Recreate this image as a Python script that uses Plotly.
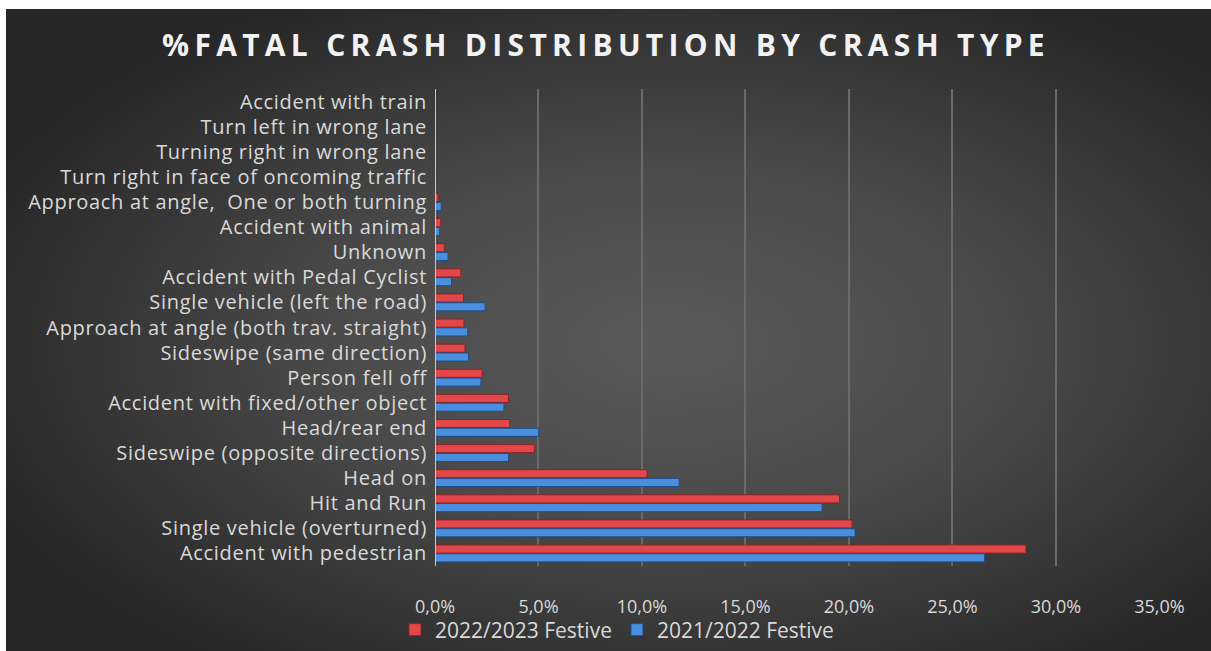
import base64
import plotly.graph_objects as go

# Crash types, listed top to bottom as drawn
crash_types = [
    "Accident with train",
    "Turn left in wrong lane",
    "Turning right in wrong lane",
    "Turn right in face of oncoming traffic",
    "Approach at angle,  One or both turning",
    "Accident with animal",
    "Unknown",
    "Accident with Pedal Cyclist",
    "Single vehicle (left the road)",
    "Approach at angle (both trav. straight)",
    "Sideswipe (same direction)",
    "Person fell off",
    "Accident with fixed/other object",
    "Head/rear end",
    "Sideswipe (opposite directions)",
    "Head on",
    "Hit and Run",
    "Single vehicle (overturned)",
    "Accident with pedestrian",
]

# Percentage of fatal crashes per season
festive_2022_2023 = [0.0, 0.0, 0.0, 0.0, 0.15, 0.28, 0.45, 1.25, 1.38, 1.4, 1.45, 2.28,
                     3.55, 3.6, 4.8, 10.25, 19.55, 20.15, 28.55]
festive_2021_2022 = [0.0, 0.0, 0.0, 0.0, 0.3, 0.22, 0.63, 0.8, 2.42, 1.58, 1.62, 2.22,
                     3.33, 5.0, 3.55, 11.8, 18.7, 20.3, 26.55]

x_ticks = [0, 5, 10, 15, 20, 25, 30, 35]
x_tick_labels = [f"{v:.1f}%".replace(".", ",") for v in x_ticks]

W, H = 1211, 651
M_L, M_R, M_T, M_B = 435, 51, 89, 85
PANEL_X0, PANEL_Y0 = 6, 9

FONT = "Open Sans"
TEXT = "#d9d9d9"

# Dark radial backdrop for the chart panel
svg = """<svg xmlns='http://www.w3.org/2000/svg' width='1205' height='642' viewBox='0 0 1205 642' preserveAspectRatio='none'>
<defs><radialGradient id='g' cx='0.55' cy='0.52' r='0.62' gradientUnits='objectBoundingBox'>
<stop offset='0' stop-color='#5a5a5a'/><stop offset='0.45' stop-color='#4a4a4a'/>
<stop offset='1' stop-color='#262626'/></radialGradient></defs>
<rect width='1205' height='642' fill='url(#g)'/></svg>"""
bg_src = "data:image/svg+xml;base64," + base64.b64encode(svg.encode()).decode()

plot_w = W - M_L - M_R
plot_h = H - M_T - M_B

fig = go.Figure()
fig.add_trace(go.Bar(
    name="2022/2023 Festive", y=crash_types, x=festive_2022_2023, orientation="h",
    marker=dict(color="#e2484a", line=dict(color="#8e2224", width=1)),
))
fig.add_trace(go.Bar(
    name="2021/2022 Festive", y=crash_types, x=festive_2021_2022, orientation="h",
    marker=dict(color="#4a8ede", line=dict(color="#1e4d8e", width=1)),
))

fig.update_layout(
    width=W, height=H,
    margin=dict(l=M_L, r=M_R, t=M_T, b=M_B, pad=0, autoexpand=False),
    paper_bgcolor="white",
    plot_bgcolor="rgba(0,0,0,0)",
    barmode="group",
    bargap=0.3,
    bargroupgap=0.08,
    font=dict(family=FONT, color=TEXT, size=18),
    title=dict(
        text="<b>%FATAL CRASH DISTRIBUTION BY CRASH TYPE</b>",
        x=(606 / W), xanchor="center", y=1 - 45 / H, yanchor="middle",
        font=dict(family="Open Sans", size=30, color="#f2f2f2"),
    ),
    xaxis=dict(
        range=[0, 35.03], tickvals=x_ticks, ticktext=x_tick_labels,
        showgrid=True, gridcolor="#6a6a6a", gridwidth=1.5,
        zeroline=False, showline=False, ticks="", automargin=False,
        tickfont=dict(size=18, color=TEXT), ticklabelstandoff=28,
    ),
    yaxis=dict(
        autorange="reversed", showgrid=False, zeroline=False,
        showline=False, ticks="", automargin=False,
        tickfont=dict(size=20, color=TEXT), ticklabelstandoff=7,
    ),
    legend=dict(
        orientation="h", x=617 / W, xref="container", xanchor="center",
        y=1 - 630 / H, yref="container", yanchor="middle",
        font=dict(size=21, color=TEXT), bgcolor="rgba(0,0,0,0)",
        itemwidth=30, tracegroupgap=0,
    ),
    images=[dict(
        source=bg_src, xref="paper", yref="paper",
        x=(PANEL_X0 - M_L) / plot_w, y=(H - M_B - PANEL_Y0) / plot_h,
        sizex=(W - PANEL_X0) / plot_w, sizey=(H - PANEL_Y0) / plot_h,
        xanchor="left", yanchor="top", sizing="stretch", layer="below",
    )],
    shapes=[dict(
        type="line", xref="x", yref="paper", x0=0, x1=0, y0=0, y1=1,
        line=dict(color="#c8c8c8", width=2), layer="above",
    )],
)

# Spread the letters of the title and of the category labels
text_spacing = (
    "document.querySelectorAll('.gtitle').forEach(function(t){t.style.letterSpacing='5.3px';});"
    "document.querySelectorAll('.ytick text').forEach(function(t){t.style.letterSpacing='0.7px';});"
)

fig.write_html("out.html", post_script=text_spacing)
